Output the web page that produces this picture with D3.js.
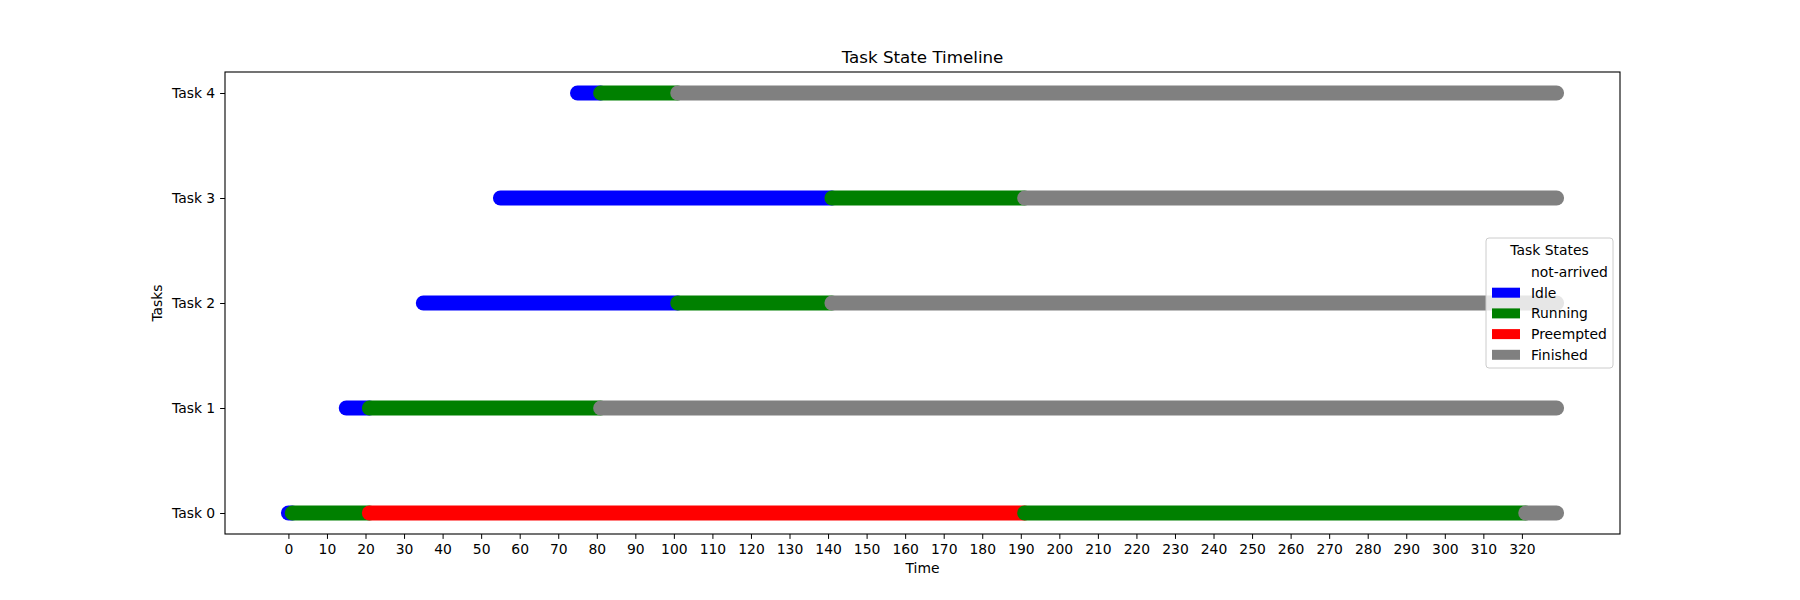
<!DOCTYPE html>
<html>
<head>
<meta charset="utf-8">
<script src="https://cdn.jsdelivr.net/npm/d3@7"></script>
<style>
  body { margin: 0; background: #fff; }
  svg { font-family: "DejaVu Sans", sans-serif; }
</style>
</head>
<body>
<div id="chart"></div>
<script>
// data
const tasks = ['Task 0', 'Task 1', 'Task 2', 'Task 3', 'Task 4'];
const stateNames = ['not-arrived', 'Idle', 'Running', 'Preempted', 'Finished'];
const stateColors = ['white', 'blue', 'green', 'red', 'gray'];
const endTime = 329;
// change points per task: [time, state]
const task0 = [[0, 'Idle'], [1, 'Running'], [21, 'Preempted'], [191, 'Running'], [321, 'Finished']];
const task1 = [[15, 'Idle'], [21, 'Running'], [81, 'Finished']];
const task2 = [[35, 'Idle'], [101, 'Running'], [141, 'Finished']];
const task3 = [[55, 'Idle'], [141, 'Running'], [191, 'Finished']];
const task4 = [[75, 'Idle'], [81, 'Running'], [101, 'Finished']];
const xTicks = d3.range(0, 321, 10);

const width = 1800, height = 600;
const margin = { top: 72, right: 180, bottom: 66, left: 225 };
const color = d3.scaleOrdinal(stateNames, stateColors);

const svg = d3.select('#chart').append('svg')
  .attr('width', width)
  .attr('height', height);

const pad = endTime * 0.05;
const x = d3.scaleLinear()
  .domain([0 - pad, endTime + pad])
  .range([margin.left, width - margin.right]);
const y = d3.scaleLinear()
  .domain([-0.2, tasks.length - 1 + 0.2])
  .range([height - margin.bottom, margin.top]);

// build segments
const segments = [];
[task0, task1, task2, task3, task4].forEach(function (changes, i) {
  changes.forEach(function (c, j) {
    const next = j < changes.length - 1 ? changes[j + 1][0] : endTime;
    segments.push({ task: i, from: c[0], to: next, state: c[1] });
  });
});

svg.append('g')
  .selectAll('line')
  .data(segments)
  .enter()
  .append('line')
  .attr('x1', d => x(d.from))
  .attr('x2', d => x(d.to))
  .attr('y1', d => y(d.task))
  .attr('y2', d => y(d.task))
  .attr('stroke', d => color(d.state))
  .attr('stroke-width', 15)
  .attr('stroke-linecap', 'round');

// axes
const xAxis = svg.append('g')
  .attr('transform', 'translate(0,' + (height - margin.bottom) + ')')
  .call(d3.axisBottom(x).tickValues(xTicks).tickSize(4.9).tickPadding(4.9));
const yAxis = svg.append('g')
  .attr('transform', 'translate(' + margin.left + ',0)')
  .call(d3.axisLeft(y).tickValues(d3.range(tasks.length)).tickFormat(i => tasks[i]).tickSize(4.9).tickPadding(4.9));
[xAxis, yAxis].forEach(function (a) {
  a.select('.domain').remove();
  a.selectAll('.tick line').attr('stroke', '#000').attr('stroke-width', 1);
  a.selectAll('.tick text').attr('fill', '#000').style('font-size', '13.9px').style('font-family', '"DejaVu Sans", sans-serif');
});

// frame
svg.append('rect')
  .attr('x', margin.left)
  .attr('y', margin.top)
  .attr('width', width - margin.left - margin.right)
  .attr('height', height - margin.top - margin.bottom)
  .attr('fill', 'none')
  .attr('stroke', '#000')
  .attr('stroke-width', 1.1);

// titles
svg.append('text')
  .attr('x', (margin.left + width - margin.right) / 2)
  .attr('y', 63)
  .attr('text-anchor', 'middle')
  .style('font-size', '16.7px')
  .text('Task State Timeline');
svg.append('text')
  .attr('x', (margin.left + width - margin.right) / 2)
  .attr('y', 573)
  .attr('text-anchor', 'middle')
  .style('font-size', '13.9px')
  .text('Time');
svg.append('text')
  .attr('transform', 'translate(162,' + ((margin.top + height - margin.bottom) / 2) + ') rotate(-90)')
  .attr('text-anchor', 'middle')
  .style('font-size', '13.9px')
  .text('Tasks');

// legend, center right
const lw = 127, lh = 130;
const lx = width - margin.right - 7 - lw;
const ly = (margin.top + height - margin.bottom) / 2 - lh / 2;
const legend = svg.append('g').attr('transform', 'translate(' + lx + ',' + ly + ')');
legend.append('rect')
  .attr('width', lw)
  .attr('height', lh)
  .attr('rx', 3)
  .attr('fill', 'white')
  .attr('fill-opacity', 0.8)
  .attr('stroke', '#cccccc');
legend.append('text')
  .attr('x', lw / 2)
  .attr('y', 17)
  .attr('text-anchor', 'middle')
  .style('font-size', '13.9px')
  .text('Task States');
const item = legend.selectAll('g.item')
  .data(stateNames)
  .enter()
  .append('g')
  .attr('class', 'item')
  .attr('transform', (d, i) => 'translate(6,' + (34 + i * 20.7) + ')');
item.append('rect')
  .attr('x', 0)
  .attr('y', -5)
  .attr('width', 28)
  .attr('height', 10)
  .attr('fill', d => color(d));
item.append('text')
  .attr('x', 39)
  .attr('y', 5)
  .style('font-size', '13.9px')
  .text(d => d);
</script>
</body>
</html>
